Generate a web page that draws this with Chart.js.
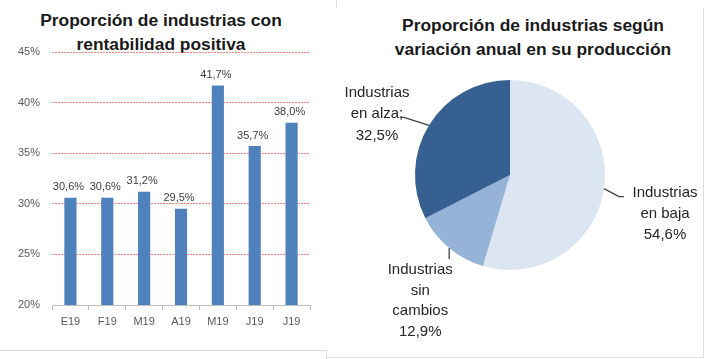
<!DOCTYPE html>
<html>
<head>
<meta charset="utf-8">
<script src="https://cdn.jsdelivr.net/npm/chart.js@4/dist/chart.umd.min.js"></script>
<style>
  body { margin: 0; background: #fff; width: 706px; height: 359px; overflow: hidden; position: relative; font-family: "Liberation Sans", Arial, sans-serif; }
  canvas { position: absolute; top: 0; }
  .titulo { position: absolute; font-weight: bold; font-size: 17.4px; line-height: 24px; color: #1a1a1a; text-align: center; white-space: nowrap; }
  .linea { position: absolute; background: #dcdcdc; }
</style>
</head>
<body>
<div class="titulo" style="left:0; width:322px; top:8px;">Proporción de industrias con<br>rentabilidad positiva</div>
<div class="titulo" style="left:380px; width:306px; top:13px;">Proporción de industrias según<br>variación anual en su producción</div>
<canvas id="graficoBarras" width="330" height="359" style="left:0"></canvas>
<canvas id="graficoTorta" width="376" height="359" style="left:330px"></canvas>
<div class="linea" style="left:336px; top:0; width:1px; height:8px;"></div>
<div class="linea" style="left:0; top:350px; width:326px; height:1px;"></div>
<div class="linea" style="left:326px; top:350px; width:1px; height:9px;"></div>
<div class="linea" style="left:326px; top:357px; width:378px; height:1px;"></div>
<div class="linea" style="left:703px; top:8px; width:1px; height:350px;"></div>
<script>
const meses = ['E19', 'F19', 'M19', 'A19', 'M19', 'J19', 'J19'];
const rentabilidad = [30.6, 30.6, 31.2, 29.5, 41.7, 35.7, 38.0];
const ticksEje = [20, 25, 30, 35, 40, 45];

const categoriasPie = [['Industrias', 'en baja'], ['Industrias', 'sin', 'cambios'], ['Industrias', 'en alza;']];
const valoresPie = [54.6, 12.9, 32.5];
const coloresPie = ['#DCE6F2', '#95B3D7', '#376092'];

const formatoPorcentaje = (valor) => valor.toFixed(1).replace('.', ',') + '%';

// etiquetas encima de cada barra
const etiquetasBarras = {
    id: 'etiquetasBarras',
    afterDatasetsDraw(chart) {
        let ctx = chart.ctx;
        let meta = chart.getDatasetMeta(0);
        ctx.save();
        ctx.font = '11px "Liberation Sans", Arial, sans-serif';
        ctx.fillStyle = '#404040';
        ctx.textAlign = 'center';
        ctx.textBaseline = 'bottom';
        meta.data.forEach((barra, i) => {
            ctx.fillText(formatoPorcentaje(rentabilidad[i]), barra.x - 2, barra.y - 5);
        });
        ctx.restore();
    }
};

new Chart(document.getElementById('graficoBarras'), {
    type: 'bar',
    data: {
        labels: meses,
        datasets: [{
            data: rentabilidad,
            backgroundColor: '#4F81BD',
            barPercentage: 0.33,
            categoryPercentage: 1
        }]
    },
    options: {
        responsive: false,
        animation: false,
        layout: { padding: { left: 0, right: 20, top: 52, bottom: 24 } },
        plugins: { legend: { display: false }, tooltip: { enabled: false } },
        scales: {
            x: {
                afterFit: (scale) => { scale.height = 30; },
                border: { color: '#bfbfbf' },
                grid: { offset: true, drawOnChartArea: false, drawTicks: true, tickLength: 5, color: '#bfbfbf' },
                ticks: { color: '#595959', font: { size: 11, family: '"Liberation Sans", Arial, sans-serif' }, padding: 5 }
            },
            y: {
                min: 20,
                max: 45,
                afterFit: (scale) => { scale.width = 52; },
                afterBuildTicks: (scale) => { scale.ticks = ticksEje.map(v => ({ value: v })); },
                border: { display: false, dash: [2, 1] },
                grid: {
                    drawTicks: false,
                    color: (c) => c.tick && c.tick.value === 20 ? 'rgba(0,0,0,0)' : 'rgba(255,40,40,0.6)'
                },
                ticks: {
                    color: '#595959',
                    padding: 12,
                    font: { size: 11, family: '"Liberation Sans", Arial, sans-serif' },
                    callback: (v) => v + '%'
                }
            }
        }
    },
    plugins: [etiquetasBarras]
});

// guias y textos de la torta, posiciones relativas al punto medio de cada porcion
const guiasPie = [
    { linea: [[15, 8], [20, 8]], texto: [61, 4], alto: 21 },
    { linea: [[0, 11]], texto: [-29, 22], alto: 20.5 },
    { linea: [[-25, -8], [-29, -8]], texto: [-52, -33], alto: 21.5 }
];

const etiquetasTorta = {
    id: 'etiquetasTorta',
    afterDatasetsDraw(chart) {
        let ctx = chart.ctx;
        let meta = chart.getDatasetMeta(0);
        ctx.save();
        meta.data.forEach((arco, i) => {
            let p = arco.getProps(['x', 'y', 'startAngle', 'endAngle', 'outerRadius'], true);
            let medio = (p.startAngle + p.endAngle) / 2;
            let x0 = p.x + Math.cos(medio) * p.outerRadius;
            let y0 = p.y + Math.sin(medio) * p.outerRadius;
            let guia = guiasPie[i];
            ctx.strokeStyle = '#404040';
            ctx.lineWidth = 1.3;
            ctx.beginPath();
            ctx.moveTo(x0, y0);
            guia.linea.forEach(pt => ctx.lineTo(x0 + pt[0], y0 + pt[1]));
            ctx.stroke();
            let lineas = categoriasPie[i].concat([formatoPorcentaje(valoresPie[i])]);
            ctx.font = '15px "Liberation Sans", Arial, sans-serif';
            ctx.fillStyle = '#262626';
            ctx.textAlign = 'center';
            ctx.textBaseline = 'middle';
            lineas.forEach((t, j) => {
                ctx.fillText(t, x0 + guia.texto[0], y0 + guia.texto[1] + j * guia.alto);
            });
        });
        ctx.restore();
    }
};

new Chart(document.getElementById('graficoTorta'), {
    type: 'pie',
    data: {
        labels: categoriasPie.map(c => c.join(' ')),
        datasets: [{
            data: valoresPie,
            backgroundColor: coloresPie,
            borderWidth: 0
        }]
    },
    options: {
        responsive: false,
        animation: false,
        layout: { padding: { left: 85, right: 101, top: 80, bottom: 89 } },
        plugins: { legend: { display: false }, tooltip: { enabled: false } }
    },
    plugins: [etiquetasTorta]
});
</script>
</body>
</html>
